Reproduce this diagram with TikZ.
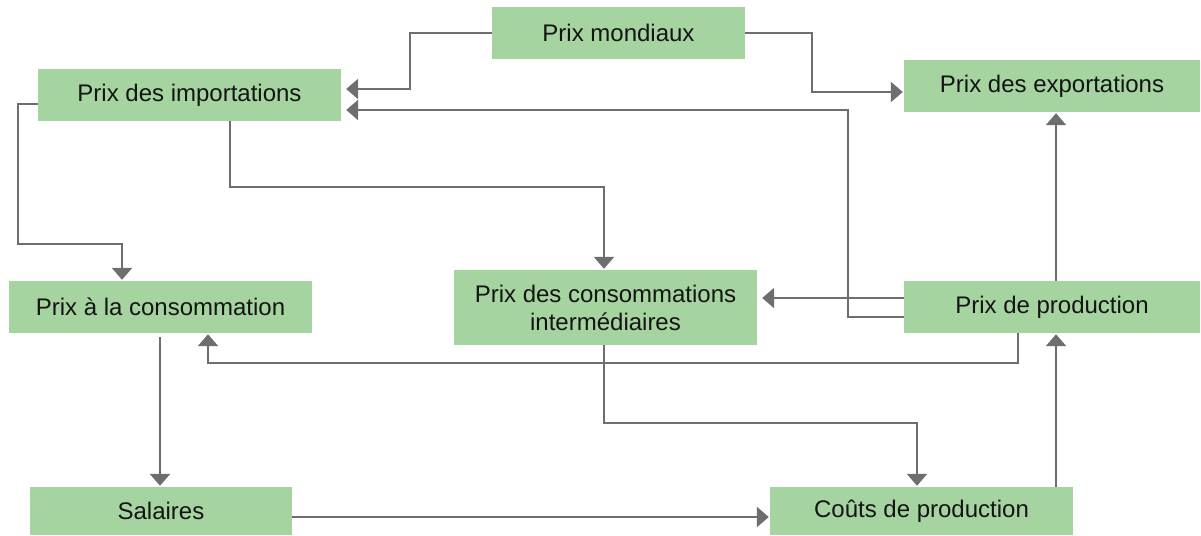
\documentclass[tikz,border=0pt]{standalone}
\usepackage{fontspec}
\setmainfont{Liberation Sans}
\usetikzlibrary{arrows.meta}
\definecolor{boxgreen}{HTML}{A5D4A0}
\definecolor{linegray}{HTML}{6E6E70}
\definecolor{txt}{HTML}{141414}
\begin{document}
\begin{tikzpicture}[x=1pt,y=-1pt,
  box/.style={fill=boxgreen,draw=none,minimum width=#1,minimum height=52pt,inner sep=0pt,
    font=\fontsize{24}{28}\selectfont,text=txt,align=center},
  conn/.style={draw=linegray,line width=2.6pt,-{Triangle[width=20pt,length=12pt]},shorten >=1pt}]
\useasboundingbox (0,0) rectangle (1201,535);
\node[box=253pt] (mond) at (618.5,33) {Prix mondiaux};
\node[box=303pt] (imp) at (189.5,95) {Prix des importations};
\node[box=296pt] (exp) at (1052,86) {Prix des exportations};
\node[box=303pt] (cons) at (160.5,307) {Prix à la consommation};
\node[box=303pt,minimum height=75pt] (pci) at (605.5,307.5) {Prix des consommations\\intermédiaires};
\node[box=296pt] (prod) at (1052,307) {Prix de production};
\node[box=262pt,minimum height=48pt] (sal) at (161,511) {Salaires};
\node[box=303pt,minimum height=48pt] (cout) at (921.5,511) {Coûts de production};
% helper levels
\coordinate (a1) at (410,89);
\coordinate (a2) at (812,92);
\coordinate (a3) at (848,110);
\coordinate (a4) at (18,244);
\coordinate (a5) at (230,187);
\coordinate (a6) at (604,423);
\coordinate (a7) at (1018,363);
\coordinate (p1) at (1052,298);
\coordinate (p2) at (1052,317);
\coordinate (i1) at (122,104);
\coordinate (c1) at (208,0);
\coordinate (c2) at (160,0);
\coordinate (k1) at (917,0);
\coordinate (s1) at (0,517);
\coordinate (u1) at (1056,0);
% connectors
\draw[conn,shorten >=5pt] (mond.west) -| (a1) -- (imp.east |- a1);
\draw[conn] (mond.east) -| (a2) -- (exp.west |- a2);
\draw[conn,shorten >=5pt] (prod.west |- p2) -| (a3) -- (imp.east |- a3);
\draw[conn,shorten >=5pt] (prod.west |- p1) -- (pci.east |- p1);
\draw[conn] (prod.south -| a7) |- (a7) -| (cons.south -| c1);
\draw[conn] (prod.north -| u1) -- (exp.south -| u1);
\draw[conn] (imp.west |- i1) -| (a4) -| (cons.north -| i1);
\draw[conn] (imp.south -| a5) |- (a5) -| (pci.north -| a6);
\draw[conn] (pci.south -| a6) |- (a6) -| (cout.north -| k1);
\draw[conn,shorten <=4pt] (cons.south -| c2) -- (sal.north -| c2);
\draw[conn] (sal.east |- s1) -- (cout.west |- s1);
\draw[conn] (cout.north -| u1) -- (prod.south -| u1);
\end{tikzpicture}
\end{document}
